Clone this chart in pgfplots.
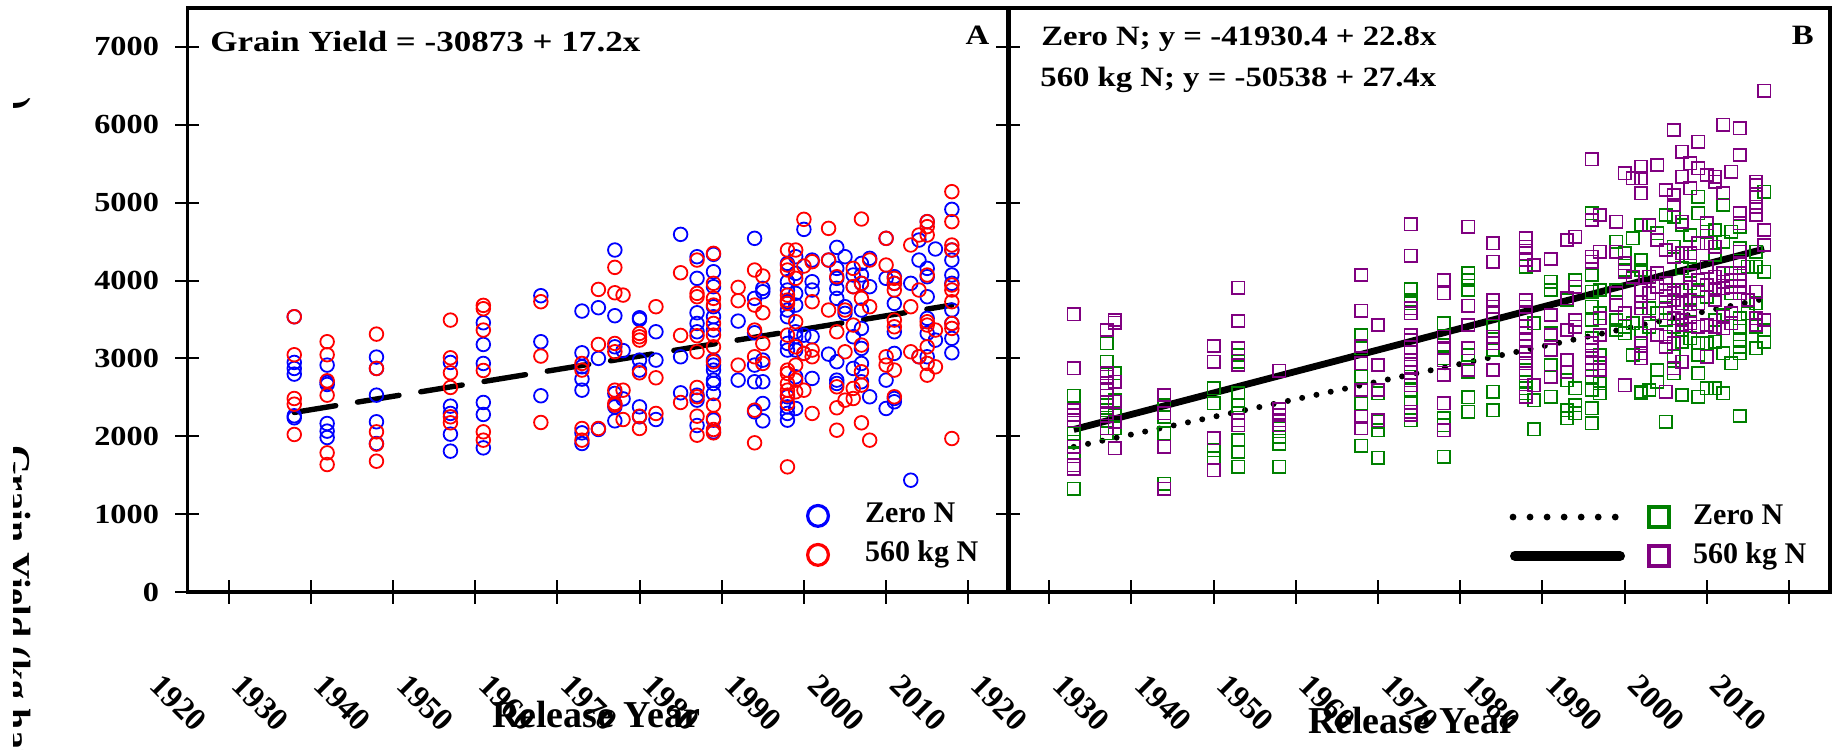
\documentclass[border=0pt]{standalone}
\usepackage{fontspec}
\setmainfont{Liberation Serif}
\usepackage{graphicx}
\usepackage{pgfplots}
\pgfplotsset{compat=1.18}

\definecolor{zblue}{RGB}{0,0,255}
\definecolor{zred}{RGB}{255,0,0}
\definecolor{zgreen}{RGB}{0,128,0}
\definecolor{zpurple}{RGB}{128,0,128}

\newcommand{\sx}[1]{\scalebox{1.17}[1]{#1}}
\newcommand{\eqfont}{\fontsize{14}{16}\selectfont\bfseries}
\newcommand{\eqAfont}{\fontsize{14.6}{16}\selectfont\bfseries}
\newcommand{\tickfont}{\fontsize{13.8}{16}\selectfont\bfseries}
\newcommand{\xtickfont}{\fontsize{16}{18}\selectfont\bfseries}
\newcommand{\labfont}{\fontsize{19}{22}\selectfont\bfseries}
\newcommand{\legfont}{\fontsize{15}{18}\selectfont\bfseries}

\pgfplotsset{
  panel/.style={
    scale only axis, width=411pt, height=292pt,
    xmin=1915, xmax=2015, ymin=0, ymax=7500,
    xtick={1920,1930,...,2010}, ytick={0,1000,...,7000},
    xticklabels={1920,1930,1940,1950,1960,1970,1980,1990,2000,2010},
    tick pos=left, tick align=center, major tick length=12pt,
    every tick/.style={black, line width=1pt},
    axis line style={black, line width=1.6pt},
    x tick label style={font=\xtickfont, anchor=center, xshift=-25pt, yshift=-49.5pt, rotate=-45},
    y tick label style={font=\tickfont, anchor=east, xshift=-4.7pt},
    xlabel={Release Year},
    legend cell align=left,
  },
  legimgA/.style={legend image code/.code={%
      \path[draw=none, fill=none] (-8pt,-7pt) rectangle (23.5pt,7pt);
      \draw[##1, mark size=5.2pt, line width=1.6pt] plot coordinates {(0pt,0pt)};}},
  legimgBz/.style={legend image code/.code={%
      \path[draw=none, fill=none] (-5pt,-7pt) rectangle (90pt,7pt);
      \draw[black, solid, line width=3.4pt, line cap=round, dash pattern=on 0pt off 8.52pt] (0pt,0pt) -- (51.2pt,0pt);
      \draw[##1, mark size=5pt, line width=1.6pt] plot coordinates {(73pt,0pt)};}},
  legimgBp/.style={legend image code/.code={%
      \path[draw=none, fill=none] (-5pt,-7pt) rectangle (90pt,7pt);
      \draw[black, solid, line width=5pt, line cap=round] (1pt,0pt) -- (53.5pt,0pt);
      \draw[##1, mark size=5pt, line width=1.6pt] plot coordinates {(73pt,0pt)};}},
}

\begin{document}
\begin{tikzpicture}[x=1pt,y=1pt]
\useasboundingbox (0,0) rectangle (916.5,375);
\clip (0,0) rectangle (916.5,375);

% ---------------- Panel A ----------------
\begin{axis}[panel, at={(93.7pt,79pt)}, anchor=south west,
  yticklabels={\sx{0},\sx{1000},\sx{2000},\sx{3000},\sx{4000},\sx{5000},\sx{6000},\sx{7000}},
  xlabel style={font=\labfont, at={(axis description cs:0.497,0)}, anchor=center, yshift=-61.5pt},
  legend style={draw=none, fill=none, at={(axis description cs:0.7477,0.156)}, anchor=north west,
    font=\legfont, row sep=4.5pt, column sep=0pt, inner sep=0pt, outer sep=0pt,
    nodes={inner sep=0pt, text height=11pt, text depth=4pt}},
  legimgA]
\addplot[only marks, mark=o, color=zblue, mark size=3.4pt, line width=0.9pt] coordinates {
(1928,3535)(1928,2948)(1928,2871)(1928,2798)(1928,2263)(1928,2237)
(1932,2914)(1932,2691)(1932,2665)(1932,2164)(1932,2066)(1932,1984)
(1938,3017)(1938,2871)(1938,2528)(1938,2186)(1938,1907)
(1947,2948)(1947,2387)(1947,2293)(1947,2027)(1947,1809)
(1951,3458)(1951,3179)(1951,2935)(1951,2434)(1951,2280)(1951,1851)
(1958,3805)(1958,3214)(1958,2520)
(1963,3608)(1963,3072)(1963,2892)(1963,2734)(1963,2592)(1963,2044)(1963,1907)
(1965,3651)(1965,3000)(1965,2087)
(1967,4392)(1967,3548)(1967,3149)(1967,2550)(1967,2378)(1967,2198)
(1968,3100)(1968,2480)
(1970,3522)(1970,3501)(1970,2978)(1970,2850)(1970,2378)(1970,2250)
(1972,3342)(1972,2978)(1972,2215)
(1975,4593)(1975,3021)(1975,2558)
(1977,4306)(1977,4028)(1977,3586)(1977,3449)(1977,3342)(1977,2528)(1977,2464)(1977,2138)
(1979,4336)(1979,4113)(1979,3921)(1979,3664)(1979,3535)(1979,3364)(1979,2978)(1979,2914)(1979,2850)(1979,2721)(1979,2678)(1979,2550)(1979,2207)(1979,2057)
(1982,3479)(1982,2721)
(1984,4542)(1984,3771)(1984,3329)(1984,2914)(1984,2700)(1984,2314)
(1985,3899)(1985,3856)(1985,2978)(1985,2700)(1985,2421)(1985,2198)
(1988,4220)(1988,3985)(1988,3878)(1988,3728)(1988,3621)(1988,3535)(1988,3192)(1988,3107)(1988,2507)(1988,2378)(1988,2293)(1988,2207)
(1989,4306)(1989,4092)(1989,3835)(1989,3685)(1989,3342)(1989,3278)(1989,3107)(1989,2764)(1989,2357)
(1990,4657)(1990,3299)(1990,3064)
(1991,4263)(1991,3985)(1991,3878)(1991,3278)(1991,2743)
(1993,4263)(1993,3055)
(1994,4426)(1994,4156)(1994,4028)(1994,3899)(1994,3771)(1994,2957)(1994,2721)(1994,2678)
(1995,4306)(1995,3664)(1995,3578)
(1996,4071)(1996,3921)(1996,3278)(1996,2871)
(1997,4220)(1997,4071)(1997,3964)(1997,3621)(1997,3385)(1997,3128)(1997,2935)(1997,2700)
(1998,4285)(1998,3921)(1998,2507)
(2000,4542)(2000,4028)(2000,2721)(2000,2357)
(2001,4049)(2001,3964)(2001,3706)(2001,3342)(2001,3064)(2001,2485)(2001,2443)
(2003,3964)(2003,1436)
(2004,4520)(2004,4263)(2004,3021)
(2005,4756)(2005,4156)(2005,4049)(2005,3792)(2005,3514)(2005,3321)(2005,3021)
(2006,4405)(2006,3235)
(2008,4914)(2008,4392)(2008,4263)(2008,4071)(2008,3964)(2008,3621)(2008,3449)(2008,3257)(2008,3072)
};
\addlegendentry{Zero N}
\addplot[only marks, mark=o, color=zred, mark size=3.4pt, line width=0.9pt] coordinates {
(1928,3535)(1928,3047)(1928,2485)(1928,2412)(1928,2023)
(1932,3214)(1932,3047)(1932,2712)(1932,2528)(1932,1787)(1932,1637)
(1938,3312)(1938,2871)(1938,2057)(1938,1899)(1938,1680)
(1947,3492)(1947,3008)(1947,2815)(1947,2627)(1947,2250)(1947,2173)
(1951,3681)(1951,3638)(1951,3364)(1951,2845)(1951,2057)(1951,1950)
(1958,3728)(1958,3030)(1958,2177)
(1963,2935)(1963,2850)(1963,2100)(1963,1950)
(1965,3886)(1965,3179)(1965,2100)
(1967,4169)(1967,3843)(1967,3192)(1967,3085)(1967,2592)(1967,2421)(1967,2400)
(1968,3813)(1968,2592)(1968,2215)
(1970,3321)(1970,3278)(1970,3235)(1970,2815)(1970,2258)(1970,2100)
(1972,3664)(1972,2751)(1972,2293)
(1975,4100)(1975,3295)(1975,2434)
(1977,4263)(1977,3835)(1977,3792)(1977,3291)(1977,3085)(1977,2627)(1977,2507)(1977,2258)(1977,2014)
(1979,4349)(1979,3964)(1979,3771)(1979,3685)(1979,3449)(1979,3299)(1979,3149)(1979,2957)(1979,2400)(1979,2228)(1979,2087)(1979,2044)
(1982,3912)(1982,3741)(1982,2914)
(1984,4135)(1984,3685)(1984,3364)(1984,3021)(1984,2335)(1984,1916)
(1985,4058)(1985,3586)(1985,3192)(1985,2935)
(1988,4392)(1988,4199)(1988,4135)(1988,3813)(1988,3749)(1988,3706)(1988,3299)(1988,2850)(1988,2807)(1988,2678)(1988,2592)(1988,2528)(1988,2421)(1988,1607)
(1989,4392)(1989,4028)(1989,3471)(1989,3149)(1989,2914)(1989,2721)(1989,2571)
(1990,4786)(1990,4186)(1990,3064)(1990,2592)
(1991,4242)(1991,3728)(1991,3107)(1991,3021)(1991,2293)
(1993,4670)(1993,4263)(1993,3621)
(1994,4049)(1994,3342)(1994,2635)(1994,2366)(1994,2078)
(1995,3621)(1995,3085)(1995,2464)
(1996,4156)(1996,3921)(1996,3428)(1996,2614)(1996,2485)
(1997,4790)(1997,3964)(1997,3771)(1997,3171)(1997,2828)(1997,2657)(1997,2173)
(1998,4263)(1998,3664)(1998,1950)
(2000,4542)(2000,4199)(2000,3021)(2000,2914)
(2001,4028)(2001,3964)(2001,3878)(2001,3492)(2001,3406)(2001,2850)(2001,2507)
(2003,4456)(2003,3664)(2003,3085)
(2004,4585)(2004,3878)(2004,3021)
(2005,4756)(2005,4692)(2005,4585)(2005,4071)(2005,3471)(2005,3428)(2005,3149)(2005,2935)(2005,2785)
(2006,3364)(2006,2892)
(2008,5141)(2008,4756)(2008,4456)(2008,4392)(2008,3942)(2008,3878)(2008,3728)(2008,3449)(2008,3385)(2008,1971)
};
\addlegendentry{560 kg N}
\addplot[black, line width=2.7pt, line cap=round, dash pattern=on 21pt off 11.05pt, forget plot] coordinates {(1928,2306) (2008,3685)};
\node[anchor=base west, inner sep=0pt, font=\eqAfont] at (rel axis cs:0.0275,0.9247) {\scalebox{1.2}[1]{Grain Yield = -30873 + 17.2x}};
\node[anchor=base, inner sep=0pt, font=\eqfont] at (rel axis cs:0.961,0.938) {\sx{A}};
\end{axis}

% ---------------- Panel B ----------------
\begin{axis}[panel, at={(504pt,79pt)}, anchor=south west,
  yticklabels={},
  xlabel style={font=\labfont, at={(axis description cs:0.4915,0)}, anchor=center, yshift=-64.5pt},
  legend style={draw=none, fill=none, at={(axis description cs:0.6022,0.154)}, anchor=north west,
    font=\legfont, row sep=4.5pt, column sep=0pt, inner sep=0pt, outer sep=0pt,
    nodes={inner sep=0pt, text height=11pt, text depth=4pt}}]
\addplot[only marks, mark=square, color=zgreen, mark size=3.1pt, line width=0.8pt, legimgBz] coordinates {
(1923,2520)(1923,2357)(1923,2036)(1923,1929)(1923,1779)(1923,1329)
(1927,3193)(1927,2957)(1927,2400)(1927,2336)(1927,2207)(1927,2036)
(1928,2807)(1928,2464)(1928,2272)(1928,2100)
(1934,2400)(1934,2250)(1934,2036)(1934,1393)
(1940,2614)(1940,2422)(1940,1822)(1940,1715)
(1943,3043)(1943,2957)(1943,2550)(1943,2400)(1943,2293)(1943,1950)(1943,1800)(1943,1607)
(1948,2100)(1948,1993)(1948,1907)(1948,1607)
(1958,3300)(1958,3128)(1958,2764)(1958,2422)(1958,1877)
(1960,2550)(1960,2186)(1960,2079)(1960,1723)
(1964,3887)(1964,3750)(1964,3707)(1964,2764)(1964,2593)(1964,2422)(1964,2207)
(1968,3450)(1968,3171)(1968,2999)(1968,2786)(1968,2229)(1968,2143)(1968,1736)
(1971,4092)(1971,4007)(1971,3878)(1971,3043)(1971,2829)(1971,2499)(1971,2315)
(1974,3407)(1974,3107)(1974,2571)(1974,2336)
(1978,4178)(1978,3407)(1978,3064)(1978,2850)(1978,2700)(1978,2614)(1978,2550)
(1979,3450)(1979,2464)(1979,2087)
(1981,3985)(1981,3878)(1981,3321)(1981,2914)(1981,2507)
(1983,3750)(1983,2721)(1983,2336)(1983,2229)
(1984,4007)(1984,2614)(1984,2400)(1984,2293)
(1986,4863)(1986,4071)(1986,3857)(1986,3664)(1986,3493)(1986,3257)(1986,2764)(1986,2593)(1986,2357)(1986,2164)
(1987,3878)(1987,3578)(1987,3043)(1987,2679)(1987,2550)
(1989,4499)(1989,3878)(1989,3493)(1989,3364)
(1990,4349)(1990,4135)(1990,3407)(1990,3321)
(1991,4542)(1991,4028)(1991,3450)(1991,3043)
(1992,4713)(1992,4264)(1992,4135)(1992,3321)(1992,2571)(1992,2550)
(1993,3643)(1993,3407)(1993,2593)
(1994,4607)(1994,3578)(1994,2850)(1994,2700)
(1995,4842)(1995,3643)(1995,3493)(1995,2186)
(1996,4820)(1996,4435)(1996,3878)(1996,3407)(1996,3021)(1996,2807)
(1997,4713)(1997,4157)(1997,3364)(1997,3214)(1997,2529)
(1998,4585)(1998,4307)(1998,3964)(1998,3621)(1998,3257)
(1999,5077)(1999,4863)(1999,3878)(1999,3193)(1999,3043)(1999,2807)(1999,2507)
(2000,4628)(2000,3792)(2000,3193)(2000,2614)
(2001,4649)(2001,4328)(2001,3493)(2001,3214)(2001,2614)
(2002,4971)(2002,4499)(2002,3557)(2002,3064)(2002,2550)
(2003,4628)(2003,4092)(2003,3835)(2003,2936)
(2004,4692)(2004,4414)(2004,3514)(2004,3407)(2004,3236)(2004,3150)(2004,3064)(2004,2259)
(2005,4178)(2005,3578)
(2006,4371)(2006,4178)(2006,3707)(2006,3407)(2006,3128)
(2007,5142)(2007,4114)(2007,3364)(2007,3214)
};
\addlegendentry{Zero N}
\addplot[only marks, mark=square, color=zpurple, mark size=3.1pt, line width=0.8pt, legimgBp] coordinates {
(1923,3565)(1923,2871)(1923,2336)(1923,2272)(1923,2207)(1923,1865)(1923,1629)(1923,1586)
(1927,3364)(1927,2807)(1927,2764)(1927,2679)(1927,2593)(1927,2443)(1927,2293)(1927,2100)
(1928,3493)(1928,3458)(1928,2700)(1928,2443)(1928,2186)(1928,1843)
(1934,2529)(1934,2293)(1934,1865)(1934,1329)
(1940,3158)(1940,2957)(1940,1972)(1940,1565)
(1943,3908)(1943,3480)(1943,3128)(1943,2914)(1943,2207)(1943,2143)
(1948,2841)(1948,2344)(1948,2272)(1948,2207)(1948,2143)
(1958,4071)(1958,3613)(1958,3158)(1958,2936)(1958,2593)(1958,2250)(1958,2100)
(1960,3428)(1960,2914)(1960,2593)(1960,2207)
(1964,4722)(1964,4319)(1964,3643)(1964,3578)(1964,3300)(1964,3236)(1964,3086)(1964,2979)(1964,2893)(1964,2721)(1964,2657)(1964,2315)(1964,2272)
(1968,4007)(1968,3835)(1968,3278)(1968,3128)(1968,2978)(1968,2786)(1968,2422)(1968,2079)
(1971,4692)(1971,3677)(1971,3428)(1971,3128)(1971,2850)
(1974,4478)(1974,4242)(1974,3750)(1974,3664)(1974,3578)(1974,3278)(1974,3193)(1974,2850)
(1978,4542)(1978,4435)(1978,4349)(1978,4263)(1978,3750)(1978,3664)(1978,3578)(1978,3407)(1978,3321)(1978,3236)(1978,3150)(1978,3064)(1978,2936)(1978,2807)(1978,2507)
(1979,4199)(1979,2657)
(1981,4276)(1981,3557)(1981,3300)(1981,3107)(1981,2765)
(1983,4521)(1983,3771)(1983,3364)(1983,2978)(1983,2829)
(1984,4564)(1984,3921)(1984,3493)(1984,3407)
(1986,5557)(1986,4778)(1986,4307)(1986,4242)(1986,3193)(1986,3107)(1986,2999)(1986,2935)(1986,2850)
(1987,4842)(1987,4371)(1987,3514)(1987,3300)(1987,2935)(1987,2850)
(1989,4756)(1989,4371)(1989,3835)(1989,3685)
(1990,5377)(1990,4221)(1990,4114)(1990,3578)(1990,2657)
(1991,5313)(1991,4049)
(1992,5463)(1992,5313)(1992,5120)(1992,3878)(1992,3728)(1992,3643)(1992,3193)(1992,3064)(1992,2999)
(1993,4713)(1993,4049)(1993,3835)(1993,3450)
(1994,5485)(1994,4521)(1994,4092)(1994,3921)(1994,3300)
(1995,5163)(1995,4392)(1995,3964)(1995,3878)(1995,3792)(1995,3578)(1995,3278)(1995,3150)(1995,2571)
(1996,5934)(1996,5099)(1996,4971)(1996,4307)(1996,3835)(1996,3750)(1996,3514)(1996,3193)(1996,2871)
(1997,5656)(1997,5335)(1997,4756)(1997,4349)(1997,3878)(1997,3707)(1997,3493)(1997,3428)(1997,2957)
(1998,5506)(1998,5185)(1998,4349)(1998,4071)(1998,3750)(1998,3535)(1998,3450)
(1999,5784)(1999,5442)(1999,4478)(1999,4007)(1999,3707)(1999,3407)
(2000,5356)(2000,4735)(2000,4478)(2000,4178)(2000,3942)(2000,3428)(2000,3021)
(2001,5335)(2001,5270)(2001,4435)(2001,4049)(2001,3878)(2001,3750)(2001,3407)
(2002,5999)(2002,5120)(2002,4092)(2002,3985)(2002,3900)(2002,3535)(2002,3385)
(2003,5399)(2003,4007)(2003,3921)(2003,3578)(2003,3450)
(2004,5956)(2004,5613)(2004,4863)(2004,4735)(2004,4371)(2004,4221)(2004,4092)(2004,4007)(2004,3921)(2004,3835)
(2005,3750)
(2006,5270)(2006,5227)(2006,5077)(2006,4949)(2006,4842)(2006,3857)(2006,3514)(2006,3428)
(2007,6440)(2007,4649)(2007,4456)(2007,3493)
};
\addlegendentry{560 kg N}
\addplot[black, line width=3pt, line cap=round, dash pattern=on 0pt off 7.3pt, forget plot] coordinates {(1923,1864) (2007,3766)};
\addplot[black, line width=3.4pt, forget plot] coordinates {(1923,2087) (2007,4405)};
\node[anchor=base west, inner sep=0pt, font=\eqfont] at (rel axis cs:0.040,0.9366) {\sx{Zero N; y = -41930.4 + 22.8x}};
\node[anchor=base west, inner sep=0pt, font=\eqfont] at (rel axis cs:0.0389,0.8664) {\sx{560 kg N; y = -50538 + 27.4x}};
\node[anchor=base, inner sep=0pt, font=\eqfont] at (rel axis cs:0.967,0.938) {\sx{B}};
\end{axis}

% ---------------- clipped y label fragments ----------------
\begin{scope}
\clip (6.5,0) rectangle (60,375);
\node[rotate=-90, anchor=base west, inner sep=0pt, font=\labfont] at (2,152.5) {Grain Yield (kg ha\textsuperscript{-1})};
\node[rotate=-90, anchor=base west, inner sep=0pt, font=\labfont] at (2,326.5) {)};
\end{scope}
\end{tikzpicture}
\end{document}
